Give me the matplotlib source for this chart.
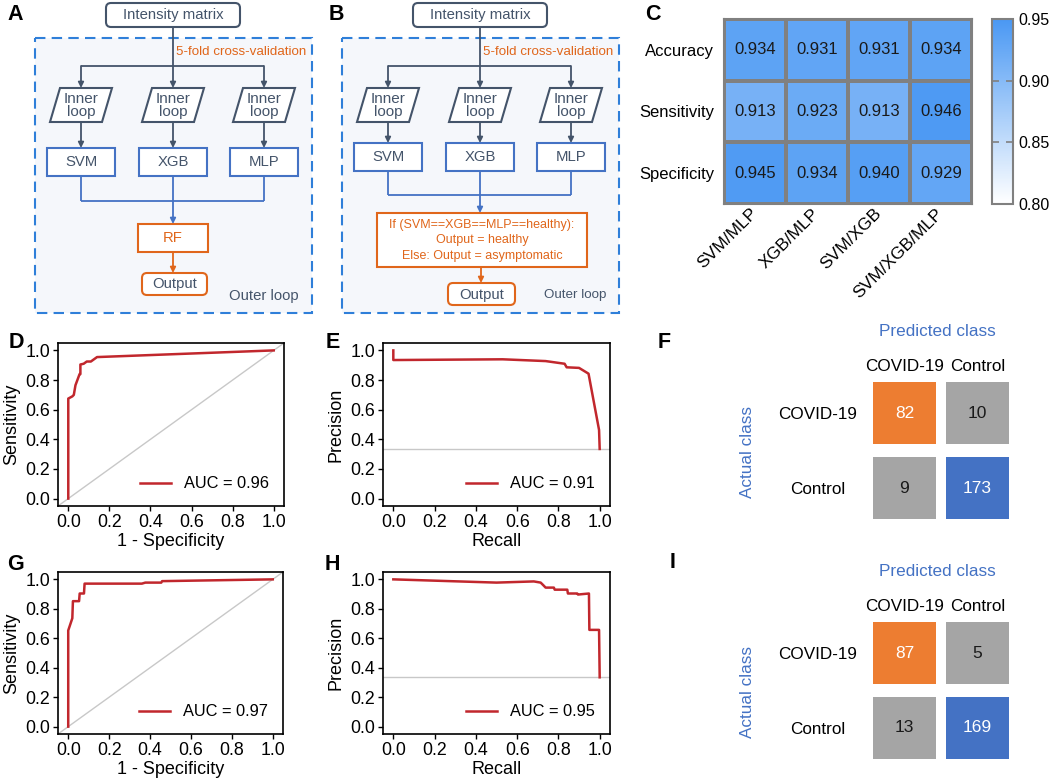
import matplotlib
matplotlib.use("Agg")
import matplotlib.pyplot as plt
import numpy as np
from matplotlib.patches import Rectangle, FancyBboxPatch, Polygon
from matplotlib.colors import LinearSegmentedColormap

plt.rcParams['font.family'] = ['Liberation Sans', 'DejaVu Sans']

# ---- data ----
heat_rows = ["Accuracy", "Sensitivity", "Specificity"]
heat_cols = ["SVM/MLP", "XGB/MLP", "SVM/XGB", "SVM/XGB/MLP"]
heat_vals = [[0.934, 0.931, 0.931, 0.934],
             [0.913, 0.923, 0.913, 0.946],
             [0.945, 0.934, 0.940, 0.929]]
cbar_ticks = [0.80, 0.85, 0.90, 0.95]

# ROC, first test set (D)
roc1_fpr = [0, 0, 0.02, 0.027, 0.035, 0.055, 0.059, 0.059, 0.075, 0.09, 0.11, 0.14, 1.0]
roc1_tpr = [0, 0.675, 0.69, 0.70, 0.765, 0.84, 0.84, 0.905, 0.91, 0.925, 0.925, 0.955, 1.0]
roc1_auc = 0.96
# PR, first test set (E)
pr1_recall = [0, 0, 0.53, 0.738, 0.83, 0.84, 0.90, 0.946, 0.997, 1.0]
pr1_precision = [1.0, 0.935, 0.94, 0.928, 0.91, 0.886, 0.882, 0.843, 0.463, 0.335]
pr1_auc = 0.91
# ROC, second test set (G)
roc2_fpr = [0, 0, 0.02, 0.023, 0.053, 0.056, 0.077, 0.08, 0.36, 0.377, 0.455, 0.459, 1.0]
roc2_tpr = [0, 0.653, 0.736, 0.852, 0.852, 0.904, 0.904, 0.971, 0.971, 0.978, 0.978, 0.988, 1.0]
roc2_auc = 0.97
# PR, second test set (H)
pr2_recall = [0, 0.50, 0.681, 0.714, 0.727, 0.738, 0.778, 0.782, 0.843, 0.846,
              0.891, 0.895, 0.948, 0.95, 0.997, 1.0]
pr2_precision = [1.0, 0.978, 0.986, 0.978, 0.96, 0.944, 0.944, 0.93, 0.93, 0.904,
                 0.904, 0.897, 0.904, 0.657, 0.657, 0.335]
pr2_auc = 0.95

cm_labels = ["COVID-19", "Control"]
cm1 = [[82, 10], [9, 173]]
cm2 = [[87, 5], [13, 169]]

# ---- style ----
W, H = 1052, 783
SLATE = '#44546a'
BLUE = '#4472c4'
DASH = '#2f7fd9'
ORANGE = '#e0661b'
RED = '#c1272d'

fig = plt.figure(figsize=(W / 100, H / 100), dpi=100)


def px_rect(x0, y0, x1, y1):
    return [x0 / W, 1 - y1 / H, (x1 - x0) / W, (y1 - y0) / H]


# overlay axes in pixel coordinates for the flow charts and free text
ax0 = fig.add_axes([0, 0, 1, 1])
ax0.set_xlim(0, W)
ax0.set_ylim(H, 0)
ax0.axis('off')


def rect(x0, y0, x1, y1, ec, fc='white', lw=1.5, rounded=False, ls='-', z=2):
    if rounded:
        p = FancyBboxPatch((x0, y0), x1 - x0, y1 - y0,
                           boxstyle='round,pad=0,rounding_size=5',
                           ec=ec, fc=fc, lw=lw, ls=ls, zorder=z)
    else:
        p = Rectangle((x0, y0), x1 - x0, y1 - y0, ec=ec, fc=fc, lw=lw, ls=ls, zorder=z)
    ax0.add_patch(p)


def arrow(x, y0, y1, color):
    ax0.annotate('', xy=(x, y1), xytext=(x, y0),
                 arrowprops=dict(arrowstyle='-|>', color=color, lw=1.3,
                                 mutation_scale=8, shrinkA=0, shrinkB=0), zorder=3)


def line(xs, ys, color):
    ax0.plot(xs, ys, color=color, lw=1.3, zorder=3, solid_capstyle='butt')


def flow_top(ox, model_y):
    # dashed outer box
    rect(ox, 38, ox + 277, 313, DASH, fc='#f5f7fb', lw=1.5, ls=(0, (5, 3)), z=1)
    cx = ox + 138
    rect(cx - 67, 3, cx + 67, 27, SLATE, rounded=True)
    ax0.text(cx, 15, "Intensity matrix", ha='center', va='center', fontsize=10.7, color=SLATE)
    ax0.text(ox + 271, 52, "5-fold cross-validation", ha='right', va='center',
             fontsize=9.6, color=ORANGE)
    cols = [ox + 46, ox + 138, ox + 229]
    line([cx, cx], [27, 66], SLATE)
    line([cols[0], cols[2]], [66, 66], SLATE)
    for c in cols:
        arrow(c, 66, 88, SLATE)
        ax0.add_patch(Polygon([(c - 21, 88), (c + 31, 88), (c + 21, 122), (c - 31, 122)],
                              closed=True, ec=SLATE, fc='white', lw=1.5, zorder=2))
        ax0.text(c, 105.5, "Inner\nloop", ha='center', va='center', fontsize=11,
                 color=SLATE, linespacing=0.88)
        arrow(c, 122, model_y, SLATE)
    for c, name in zip(cols, ["SVM", "XGB", "MLP"]):
        rect(c - 34, model_y, c + 34, model_y + 28, BLUE)
        ax0.text(c, model_y + 14, name, ha='center', va='center', fontsize=10.7, color=SLATE)
    return cols


# panel A
colsA = flow_top(35, 148)
for c in colsA:
    line([c, c], [176, 201], BLUE)
line([colsA[0], colsA[2]], [201, 201], BLUE)
arrow(colsA[1], 201, 224, BLUE)
rect(138, 224, 208, 252, ORANGE)
ax0.text(173, 238, "RF", ha='center', va='center', fontsize=10.7, color=ORANGE)
arrow(173, 252, 273, ORANGE)
rect(142, 273, 207, 295, ORANGE, rounded=True)
ax0.text(174.5, 284, "Output", ha='center', va='center', fontsize=10.7, color=SLATE)
ax0.text(264, 296, "Outer loop", ha='center', va='center', fontsize=10.7, color=SLATE)

# panel B
colsB = flow_top(342, 143)
for c in colsB:
    line([c, c], [171, 195], BLUE)
line([colsB[0], colsB[2]], [195, 195], BLUE)
arrow(colsB[1], 195, 213, BLUE)
rect(377, 213, 587, 267, ORANGE)
ax0.text(482, 225, "If (SVM==XGB==MLP==healthy):", ha='center', va='center', fontsize=9, color=ORANGE)
ax0.text(482, 240.5, "Output = healthy", ha='center', va='center', fontsize=9, color=ORANGE)
ax0.text(482, 256, "Else: Output = asymptomatic", ha='center', va='center', fontsize=9, color=ORANGE)
arrow(481, 267, 283, ORANGE)
rect(448, 283, 515, 305, ORANGE, rounded=True)
ax0.text(481.5, 294.5, "Output", ha='center', va='center', fontsize=10.7, color=SLATE)
ax0.text(575, 295, "Outer loop", ha='center', va='center', fontsize=9.6, color=SLATE)

# panel letters
for letter, x, y in [("A", 15, 14), ("B", 336, 14), ("C", 653, 14),
                     ("D", 16, 343), ("E", 333, 343), ("F", 664, 342),
                     ("G", 15, 564), ("H", 332, 564), ("I", 673, 563)]:
    ax0.text(x, y, letter, ha='center', va='center', fontsize=15.5, fontweight='bold')

# ---- panel C: heatmap ----
cmap = LinearSegmentedColormap.from_list('wb', ['#ffffff', '#4a98f3'])
axc = fig.add_axes(px_rect(724, 19, 972, 204))
vals = np.array(heat_vals)
mesh = axc.pcolormesh(vals, cmap=cmap, vmin=0.80, vmax=0.95,
                      edgecolors='#808080', linewidth=1.5)
axc.set_xlim(0, len(heat_cols))
axc.set_ylim(len(heat_rows), 0)
for i in range(vals.shape[0]):
    for j in range(vals.shape[1]):
        axc.text(j + 0.5, i + 0.5, f"{vals[i, j]:.3f}", ha='center', va='center',
                 fontsize=12, color='#1a1a1a')
axc.set_xticks(np.arange(len(heat_cols)) + 0.5)
axc.set_xticklabels(heat_cols, rotation=45, ha='right', va='center', rotation_mode='anchor',
                    fontsize=12.5)
axc.set_yticks(np.arange(len(heat_rows)) + 0.5)
axc.set_yticklabels(heat_rows, fontsize=12)
axc.tick_params(length=0)
axc.tick_params(axis='x', pad=5)
axc.tick_params(axis='y', pad=7)
for s in axc.spines.values():
    s.set_edgecolor('#808080')
    s.set_linewidth(1.5)

cax = fig.add_axes(px_rect(992, 19, 1013, 204))
cb = fig.colorbar(mesh, cax=cax, ticks=cbar_ticks)
cb.outline.set_edgecolor('#808080')
cb.outline.set_linewidth(1.5)
cax.set_yticklabels([f"{t:.2f}" for t in cbar_ticks])
cax.tick_params(direction='in', left=True, right=True, length=5, width=1.2,
                color='#808080', labelsize=11.5, pad=4)


# ---- ROC / PR panels ----
def style_axes(ax):
    ax.set_xlim(-0.05, 1.05)
    ax.set_ylim(-0.05, 1.05)
    ticks = np.arange(0, 1.01, 0.2)
    ax.set_xticks(ticks)
    ax.set_yticks(ticks)
    ax.set_xticklabels([f"{t:.1f}" for t in ticks])
    ax.set_yticklabels([f"{t:.1f}" for t in ticks])
    ax.tick_params(length=3.5, width=1, pad=2, labelsize=12.8)
    for s in ax.spines.values():
        s.set_linewidth(1.2)
    ax.legend(loc='lower right', frameon=False, fontsize=11.8, handlelength=1.9,
              handletextpad=0.8)


def draw_roc(ax, fpr, tpr, auc):
    ax.plot([0, 1], [0, 1], transform=ax.transAxes, color='#c8c8c8', lw=1)
    ax.plot(fpr, tpr, color=RED, lw=1.8, label=f"AUC = {auc:.2f}")
    style_axes(ax)
    ax.set_xlabel("1 - Specificity", fontsize=13, labelpad=2)
    ax.set_ylabel("Sensitivity", fontsize=13, labelpad=4)


def draw_pr(ax, recall, precision, auc, base):
    ax.axhline(base, color='#c8c8c8', lw=1)
    ax.plot(recall, precision, color=RED, lw=1.8, label=f"AUC = {auc:.2f}")
    style_axes(ax)
    ax.set_xlabel("Recall", fontsize=13, labelpad=2)
    ax.set_ylabel("Precision", fontsize=13, labelpad=4)


def pos_rate(cm):
    cm = np.array(cm)
    return cm[0].sum() / cm.sum()


draw_roc(fig.add_axes(px_rect(58, 343, 284, 506)), roc1_fpr, roc1_tpr, roc1_auc)
draw_pr(fig.add_axes(px_rect(383, 343, 610, 506)), pr1_recall, pr1_precision, pr1_auc, pos_rate(cm1))
draw_roc(fig.add_axes(px_rect(58, 572, 283, 734)), roc2_fpr, roc2_tpr, roc2_auc)
draw_pr(fig.add_axes(px_rect(383, 572, 610, 734)), pr2_recall, pr2_precision, pr2_auc, pos_rate(cm2))


# ---- confusion matrices ----
def draw_cm(top, cm):
    cm = np.array(cm)
    ax = fig.add_axes(px_rect(873, top, 1009, top + 137))
    fills = [['#ed7d31', '#a5a5a5'], ['#a5a5a5', '#4472c4']]
    w, h = 63 / 73, 62 / 75
    for i in range(2):
        for j in range(2):
            ax.add_patch(Rectangle((j - w / 2, i - h / 2), w, h, color=fills[i][j], lw=0))
            ax.text(j, i, str(cm[i, j]), ha='center', va='center', fontsize=12.5,
                    color='white' if i == j else '#1a1a1a')
    ax.set_xlim(-w / 2, 1 + w / 2)
    ax.set_ylim(1 + h / 2, -h / 2)
    ax.xaxis.tick_top()
    ax.set_xticks([0, 1])
    ax.set_xticklabels(cm_labels)
    ax.set_yticks([0, 1])
    ax.set_yticklabels(cm_labels, ha='center')
    ax.tick_params(length=0, labelsize=12.3)
    ax.tick_params(axis='x', pad=6)
    ax.tick_params(axis='y', pad=40)
    for s in ax.spines.values():
        s.set_visible(False)
    ax0.text(937, top - 50, "Predicted class", ha='center', va='center', fontsize=12.3, color=BLUE)
    ax0.text(747, top + 70, "Actual class", ha='center', va='center', rotation=90,
             fontsize=12.3, color=BLUE)


draw_cm(382, cm1)
draw_cm(622, cm2)

fig.savefig("out.png", dpi=100)
